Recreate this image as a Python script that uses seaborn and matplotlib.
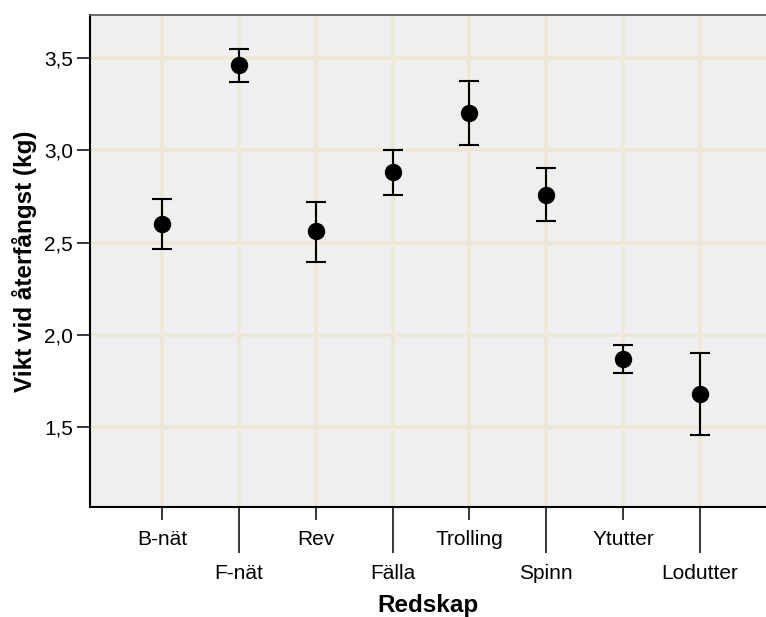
import numpy as np
import pandas as pd
import matplotlib
matplotlib.use("Agg")
import matplotlib.pyplot as plt
from matplotlib.ticker import FuncFormatter, FixedLocator
import seaborn as sns

# Mean weight at recapture per gear type, with confidence interval bounds
categories = ["B-nät", "F-nät", "Rev", "Fälla", "Trolling", "Spinn", "Ytutter", "Lodutter"]
means = [2.60, 3.46, 2.56, 2.88, 3.20, 2.76, 1.87, 1.68]
lower = [2.465, 3.372, 2.395, 2.755, 3.027, 2.617, 1.794, 1.457]
upper = [2.737, 3.550, 2.720, 3.001, 3.376, 2.904, 1.947, 1.899]
y_ticks = [1.5, 2.0, 2.5, 3.0, 3.5]

sns.set_theme(style="ticks")
plt.rcParams["font.family"] = ["Liberation Sans", "DejaVu Sans"]
plt.rcParams["text.color"] = "black"
plt.rcParams["axes.labelcolor"] = "black"
plt.rcParams["xtick.color"] = "black"
plt.rcParams["ytick.color"] = "black"

df = pd.DataFrame({"Redskap": categories, "Vikt": means,
                   "lo": lower, "hi": upper})

W, H = 766, 617
fig = plt.figure(figsize=(W / 100, H / 100), dpi=100)
left, right, top, bottom = 90, 766, 15, 507
ax = fig.add_axes([left / W, 1 - bottom / H, (right - left) / W, (bottom - top) / H])
ax.set_facecolor("#EFEFEF")

sns.pointplot(data=df, x="Redskap", y="Vikt", order=categories,
              color="black", linestyle="none", markers="o",
              errorbar=None, markersize=10.5, ax=ax, zorder=4)

pos = np.arange(len(categories))
m = df["Vikt"].to_numpy()
ax.errorbar(pos, m, yerr=[m - df["lo"].to_numpy(), df["hi"].to_numpy() - m],
            fmt="none", ecolor="black", elinewidth=1.5, capsize=7,
            capthick=1.5, zorder=3)

# Category spacing is ~76.9 px; first category sits 72 px from the left edge
step = 76.86
ax.set_xlim(-(162 - left) / step, (right - 162) / step)
ax.set_ylim(1.067, 3.733)

# Staggered category labels: even ones on short ticks, odd ones on long ticks
ax.xaxis.set_major_locator(FixedLocator(pos[::2]))
ax.xaxis.set_minor_locator(FixedLocator(pos[1::2]))
ax.set_xticklabels(categories[::2])
ax.set_xticklabels(categories[1::2], minor=True)
ax.tick_params(axis="x", which="major", length=9.4, width=1.1, pad=7,
               labelsize=15, labelcolor="black", color="black", direction="out")
ax.tick_params(axis="x", which="minor", length=33, width=1.1, pad=8,
               labelsize=15, labelcolor="black", color="black", direction="out")

ax.set_yticks(y_ticks)
ax.yaxis.set_major_formatter(FuncFormatter(lambda v, _: f"{v:.1f}".replace(".", ",")))
ax.tick_params(axis="y", which="major", length=9.4, width=1.1, pad=3,
               labelsize=15, labelcolor="black", color="black", direction="out")

ax.grid(True, which="both", axis="x", color="#ECE8D6", linewidth=2.6)
ax.grid(True, which="major", axis="y", color="#ECE8D6", linewidth=2.6)
ax.set_axisbelow(True)

for side in ["left", "bottom"]:
    ax.spines[side].set_color("black")
    ax.spines[side].set_linewidth(1.5)
ax.spines["top"].set_color("#555555")
ax.spines["top"].set_linewidth(1.2)
ax.spines["right"].set_visible(False)

ax.set_xlabel("Redskap", fontsize=17.5, fontweight="bold", labelpad=8, color="black")
ax.set_ylabel("Vikt vid återfångst (kg)", fontsize=17.5, fontweight="bold",
              labelpad=5, color="black")

fig.savefig("out.png", dpi=100)
